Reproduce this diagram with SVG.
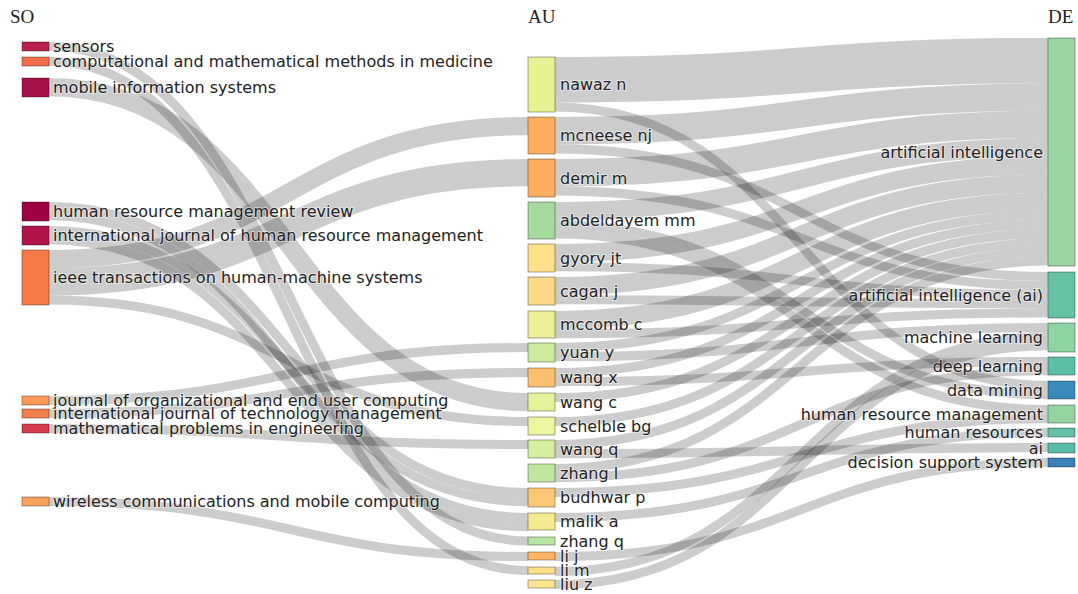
<svg xmlns="http://www.w3.org/2000/svg" width="1078" height="594" viewBox="0 0 1078 594">
<style>
.link{fill:none;stroke:#000;stroke-opacity:.2}
.node rect{stroke:#000;stroke-opacity:.35;stroke-width:1}
.lbl{font-family:"DejaVu Sans",Verdana,sans-serif;font-size:16px;fill:#222;paint-order:stroke;stroke:#fff;stroke-width:2;stroke-opacity:.5}
.end{text-anchor:end}
.hdr{font-family:"Liberation Serif","DejaVu Serif",serif;font-size:19px;fill:#222}
</style>
<rect width="1078" height="594" fill="#fff"/>
<g id="headers">
<text class="hdr" x="10" y="23">SO</text>
<text class="hdr" x="528" y="23">AU</text>
<text class="hdr" x="1048" y="23">DE</text>
</g>
<g id="links">
<path class="link" stroke-width="9.1" d="M49,46.5C288.5,46.5 288.5,541 528,541"/>
<path class="link" stroke-width="9.1" d="M49,61.5C288.5,61.5 288.5,570.5 528,570.5"/>
<path class="link" stroke-width="18.2" d="M49,87.1C288.5,87.1 288.5,402.1 528,402.1"/>
<path class="link" stroke-width="9.1" d="M49,206.55C288.5,206.55 288.5,492.55 528,492.55"/>
<path class="link" stroke-width="9.1" d="M49,215.65C288.5,215.65 288.5,517.55 528,517.55"/>
<path class="link" stroke-width="9.1" d="M49,230.55C288.5,230.55 288.5,501.65 528,501.65"/>
<path class="link" stroke-width="9.1" d="M49,239.65C288.5,239.65 288.5,526.65 528,526.65"/>
<path class="link" stroke-width="18.2" d="M49,259.1C288.5,259.1 288.5,126.1 528,126.1"/>
<path class="link" stroke-width="27.3" d="M49,281.85C288.5,281.85 288.5,172.65 528,172.65"/>
<path class="link" stroke-width="9.1" d="M49,300.05C288.5,300.05 288.5,421.55 528,421.55"/>
<path class="link" stroke-width="9.1" d="M49,400.55C288.5,400.55 288.5,347.55 528,347.55"/>
<path class="link" stroke-width="9.1" d="M49,413.55C288.5,413.55 288.5,372.55 528,372.55"/>
<path class="link" stroke-width="9.1" d="M49,428.55C288.5,428.55 288.5,444.55 528,444.55"/>
<path class="link" stroke-width="9.1" d="M49,501.55C288.5,501.55 288.5,556.55 528,556.55"/>

<path class="link" stroke-width="45.5" d="M555,79.75C801.5,79.75 801.5,60.75 1048,60.75"/>
<path class="link" stroke-width="9.1" d="M555,107.05C801.5,107.05 801.5,385.55 1048,385.55"/>
<path class="link" stroke-width="27.3" d="M555,130.65C801.5,130.65 801.5,97.15 1048,97.15"/>
<path class="link" stroke-width="9.1" d="M555,148.85C801.5,148.85 801.5,276.55 1048,276.55"/>
<path class="link" stroke-width="27.3" d="M555,172.65C801.5,172.65 801.5,124.45 1048,124.45"/>
<path class="link" stroke-width="9.1" d="M555,190.85C801.5,190.85 801.5,285.65 1048,285.65"/>
<path class="link" stroke-width="18.2" d="M555,211.1C801.5,211.1 801.5,147.2 1048,147.2"/>
<path class="link" stroke-width="9.1" d="M555,224.75C801.5,224.75 801.5,394.65 1048,394.65"/>
<path class="link" stroke-width="9.1" d="M555,233.85C801.5,233.85 801.5,409.55 1048,409.55"/>
<path class="link" stroke-width="18.2" d="M555,253.1C801.5,253.1 801.5,165.4 1048,165.4"/>
<path class="link" stroke-width="9.1" d="M555,266.75C801.5,266.75 801.5,294.75 1048,294.75"/>
<path class="link" stroke-width="18.2" d="M555,286.1C801.5,286.1 801.5,183.6 1048,183.6"/>
<path class="link" stroke-width="9.1" d="M555,299.75C801.5,299.75 801.5,303.85 1048,303.85"/>
<path class="link" stroke-width="18.2" d="M555,320.1C801.5,320.1 801.5,201.8 1048,201.8"/>
<path class="link" stroke-width="9.1" d="M555,333.75C801.5,333.75 801.5,312.95 1048,312.95"/>
<path class="link" stroke-width="9.1" d="M555,347.55C801.5,347.55 801.5,215.45 1048,215.45"/>
<path class="link" stroke-width="9.1" d="M555,356.65C801.5,356.65 801.5,327.55 1048,327.55"/>
<path class="link" stroke-width="9.1" d="M555,372.55C801.5,372.55 801.5,224.55 1048,224.55"/>
<path class="link" stroke-width="9.1" d="M555,381.65C801.5,381.65 801.5,361.55 1048,361.55"/>
<path class="link" stroke-width="9.1" d="M555,397.55C801.5,397.55 801.5,233.65 1048,233.65"/>
<path class="link" stroke-width="9.1" d="M555,421.55C801.5,421.55 801.5,242.75 1048,242.75"/>
<path class="link" stroke-width="9.1" d="M555,444.55C801.5,444.55 801.5,251.85 1048,251.85"/>
<path class="link" stroke-width="9.1" d="M555,453.65C801.5,453.65 801.5,447.55 1048,447.55"/>
<path class="link" stroke-width="9.1" d="M555,468.55C801.5,468.55 801.5,260.95 1048,260.95"/>
<path class="link" stroke-width="9.1" d="M555,477.65C801.5,477.65 801.5,370.65 1048,370.65"/>
<path class="link" stroke-width="9.1" d="M555,492.55C801.5,492.55 801.5,418.65 1048,418.65"/>
<path class="link" stroke-width="9.1" d="M555,517.55C801.5,517.55 801.5,432.55 1048,432.55"/>
<path class="link" stroke-width="9.1" d="M555,556.55C801.5,556.55 801.5,462.55 1048,462.55"/>
<path class="link" stroke-width="9.1" d="M555,571.55C801.5,571.55 801.5,336.65 1048,336.65"/>
<path class="link" stroke-width="9.1" d="M555,584.55C801.5,584.55 801.5,345.75 1048,345.75"/>
</g>

<g id="so-sensors" class="node"><rect x="22" y="42" width="27" height="9" fill="#b8204d"/><text class="lbl" x="53" y="46.5" dy="0.35em">sensors</text></g>
<g id="so-computational" class="node"><rect x="22" y="57" width="27" height="9" fill="#f26d4b"/><text class="lbl" x="53" y="61.5" dy="0.35em">computational and mathematical methods in medicine</text></g>
<g id="so-mobile" class="node"><rect x="22" y="78" width="27" height="19" fill="#a8104a"/><text class="lbl" x="53" y="87.5" dy="0.35em">mobile information systems</text></g>
<g id="so-hrmr" class="node"><rect x="22" y="202" width="27" height="19" fill="#9e0142"/><text class="lbl" x="53" y="211.5" dy="0.35em">human resource management review</text></g>
<g id="so-ijhrm" class="node"><rect x="22" y="226" width="27" height="19" fill="#b0144a"/><text class="lbl" x="53" y="235.5" dy="0.35em">international journal of human resource management</text></g>
<g id="so-ieee" class="node"><rect x="22" y="250" width="27" height="55" fill="#f57a48"/><text class="lbl" x="53" y="277.5" dy="0.35em">ieee transactions on human-machine systems</text></g>
<g id="so-joeuc" class="node"><rect x="22" y="396" width="27" height="9" fill="#fb9a56"/><text class="lbl" x="53" y="400.5" dy="0.35em">journal of organizational and end user computing</text></g>
<g id="so-ijtm" class="node"><rect x="22" y="409" width="27" height="9" fill="#f47f4b"/><text class="lbl" x="53" y="413.5" dy="0.35em">international journal of technology management</text></g>
<g id="so-math" class="node"><rect x="22" y="424" width="27" height="9" fill="#d73c4e"/><text class="lbl" x="53" y="428.5" dy="0.35em">mathematical problems in engineering</text></g>
<g id="so-wireless" class="node"><rect x="22" y="497" width="27" height="9" fill="#fba35a"/><text class="lbl" x="53" y="501.5" dy="0.35em">wireless communications and mobile computing</text></g>

<g id="au-nawaz" class="node"><rect x="528" y="57" width="27" height="55" fill="#e8f294"/><text class="lbl" x="560" y="84.5" dy="0.35em">nawaz n</text></g>
<g id="au-mcneese" class="node"><rect x="528" y="117" width="27" height="37" fill="#fdae61"/><text class="lbl" x="560" y="135.5" dy="0.35em">mcneese nj</text></g>
<g id="au-demir" class="node"><rect x="528" y="159" width="27" height="38" fill="#fdae61"/><text class="lbl" x="560" y="178" dy="0.35em">demir m</text></g>
<g id="au-abdeldayem" class="node"><rect x="528" y="202" width="27" height="37" fill="#a6db9e"/><text class="lbl" x="560" y="220.5" dy="0.35em">abdeldayem mm</text></g>
<g id="au-gyory" class="node"><rect x="528" y="244" width="27" height="28" fill="#fedf8a"/><text class="lbl" x="560" y="258" dy="0.35em">gyory jt</text></g>
<g id="au-cagan" class="node"><rect x="528" y="277" width="27" height="28" fill="#fed88a"/><text class="lbl" x="560" y="291" dy="0.35em">cagan j</text></g>
<g id="au-mccomb" class="node"><rect x="528" y="311" width="27" height="27" fill="#eef09a"/><text class="lbl" x="560" y="324.5" dy="0.35em">mccomb c</text></g>
<g id="au-yuan" class="node"><rect x="528" y="343" width="27" height="19" fill="#cceb9c"/><text class="lbl" x="560" y="352.5" dy="0.35em">yuan y</text></g>
<g id="au-wangx" class="node"><rect x="528" y="368" width="27" height="19" fill="#fdbf70"/><text class="lbl" x="560" y="377.5" dy="0.35em">wang x</text></g>
<g id="au-wangc" class="node"><rect x="528" y="393" width="27" height="18" fill="#e3f49a"/><text class="lbl" x="560" y="402" dy="0.35em">wang c</text></g>
<g id="au-schelble" class="node"><rect x="528" y="417" width="27" height="18" fill="#ecf5a0"/><text class="lbl" x="560" y="426" dy="0.35em">schelble bg</text></g>
<g id="au-wangq" class="node"><rect x="528" y="440" width="27" height="18" fill="#d6ef9e"/><text class="lbl" x="560" y="449" dy="0.35em">wang q</text></g>
<g id="au-zhangl" class="node"><rect x="528" y="464" width="27" height="18" fill="#c0e5a0"/><text class="lbl" x="560" y="473" dy="0.35em">zhang l</text></g>
<g id="au-budhwar" class="node"><rect x="528" y="488" width="27" height="19" fill="#fdc777"/><text class="lbl" x="560" y="497.5" dy="0.35em">budhwar p</text></g>
<g id="au-malik" class="node"><rect x="528" y="513" width="27" height="17" fill="#f6ea90"/><text class="lbl" x="560" y="521.5" dy="0.35em">malik a</text></g>
<g id="au-zhangq" class="node"><rect x="528" y="537" width="27" height="8" fill="#b9e6a0"/><text class="lbl" x="560" y="541" dy="0.35em">zhang q</text></g>
<g id="au-lij" class="node"><rect x="528" y="552" width="27" height="8" fill="#fdb467"/><text class="lbl" x="560" y="556" dy="0.35em">li j</text></g>
<g id="au-lim" class="node"><rect x="528" y="567" width="27" height="7" fill="#fee08b"/><text class="lbl" x="560" y="570.5" dy="0.35em">li m</text></g>
<g id="au-liuz" class="node"><rect x="528" y="580" width="27" height="8" fill="#fde48e"/><text class="lbl" x="560" y="584" dy="0.35em">liu z</text></g>

<g id="de-ai-full" class="node"><rect x="1048" y="38" width="27" height="228" fill="#99d5a2"/><text class="lbl end" x="1043" y="152" dy="0.35em">artificial intelligence</text></g>
<g id="de-ai-paren" class="node"><rect x="1048" y="272" width="27" height="46" fill="#66c2a5"/><text class="lbl end" x="1043" y="295" dy="0.35em">artificial intelligence (ai)</text></g>
<g id="de-ml" class="node"><rect x="1048" y="323" width="27" height="29" fill="#8ed3a2"/><text class="lbl end" x="1043" y="337.5" dy="0.35em">machine learning</text></g>
<g id="de-dl" class="node"><rect x="1048" y="357" width="27" height="18" fill="#5dbea8"/><text class="lbl end" x="1043" y="366" dy="0.35em">deep learning</text></g>
<g id="de-dm" class="node"><rect x="1048" y="381" width="27" height="18" fill="#3a8bbc"/><text class="lbl end" x="1043" y="390" dy="0.35em">data mining</text></g>
<g id="de-hrm" class="node"><rect x="1048" y="405" width="27" height="18" fill="#94d4a2"/><text class="lbl end" x="1043" y="414" dy="0.35em">human resource management</text></g>
<g id="de-hr" class="node"><rect x="1048" y="428" width="27" height="9" fill="#64c0a6"/><text class="lbl end" x="1043" y="432.5" dy="0.35em">human resources</text></g>
<g id="de-ai" class="node"><rect x="1048" y="443" width="27" height="10" fill="#5cbaa9"/><text class="lbl end" x="1043" y="448" dy="0.35em">ai</text></g>
<g id="de-dss" class="node"><rect x="1048" y="458" width="27" height="9" fill="#3a80ba"/><text class="lbl end" x="1043" y="462.5" dy="0.35em">decision support system</text></g>
</svg>
